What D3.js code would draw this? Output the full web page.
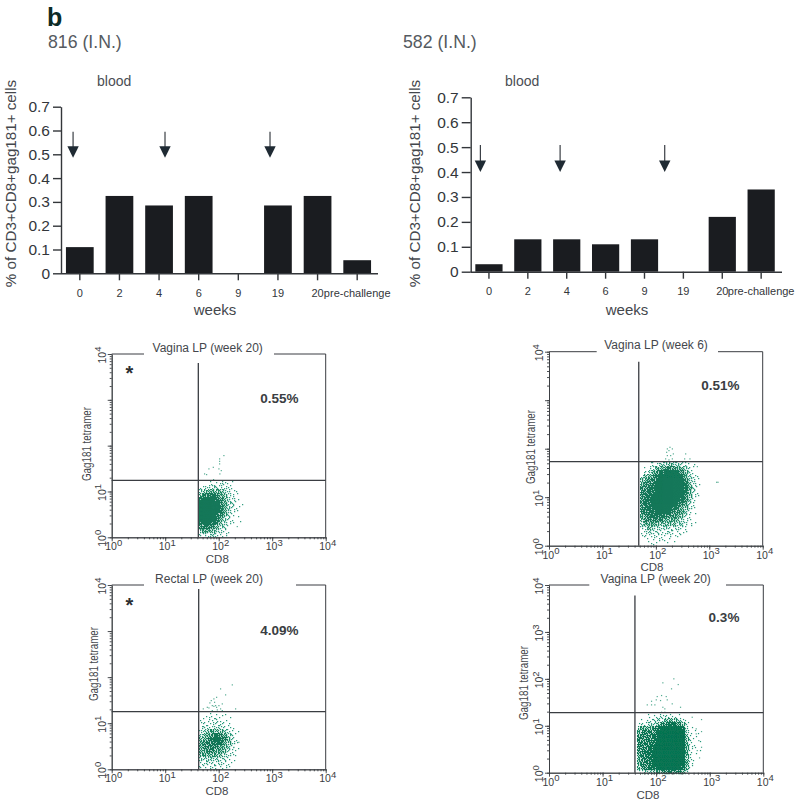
<!DOCTYPE html>
<html><head><meta charset="utf-8">
<script src="https://cdn.jsdelivr.net/npm/d3@7"></script>
<style>
html,body{margin:0;padding:0;background:#fff;overflow:hidden}
svg{display:block;font-family:"Liberation Sans",Arial,sans-serif}
</style></head><body><div id="c"></div>
<script>
/* ---------- bar chart data ---------- */
const weekLabels816 = ["0","2","4","6","9","19","20","pre-challenge"];
const values816 = [0.11,0.325,0.285,0.325,0,0.285,0.325,0.055];
const arrows816 = [-0.17,2.15,4.8];
const arrowSpan816 = [0.595,0.485];
const weekLabels582 = ["0","2","4","6","9","19","20","pre-challenge"];
const values582 = [0.03,0.13,0.13,0.11,0.13,0,0.22,0.33];
const arrows582 = [-0.22,1.83,4.52];
const arrowSpan582 = [0.509,0.40];
const yTicksBar = [0,0.1,0.2,0.3,0.4,0.5,0.6,0.7];

/* ---------- flow cytometry data: log10 decades ----------
   density rows run top to bottom, each digit is the ink level (0-9) read off
   the picture for one small patch of the cloud */
const decadesAll = [0,1,2,3,4];
const panelYLabelsSparse = [0,1,4];

const density1 = [
"00111321100",
"13343332100",
"45566543110",
"67887653210",
"89998754310",
"99999764311",
"99999864311",
"99999864210",
"99998753210",
"99998643100",
"89987542101",
"78775431000",
"56654321000",
"23343220000"];
const outliers1 = [[2.086,1.796],[2.006,1.724],[2.006,1.671],[2.006,1.615],[1.888,1.54],[1.993,1.506],[1.806,1.506],[2.037,1.468],[2.011,1.396],[1.725,1.396],[1.763,1.381],[1.893,1.272],[2.336,0.247]];

const density2 = [
"001234454432110",
"012456777654210",
"024678999875310",
"356789999986421",
"567799999997431",
"677899999998531",
"778899999998631",
"778899999998531",
"788999999997521",
"788999999987420",
"788999999876320",
"788999998765310",
"778899987764210",
"678888777653200",
"577777666542100",
"466655555443210",
"345443433322000",
"134332332211000",
"122222121110000",
"011121111000000",
"001110100000000"];
const outliers2 = [[2.204,2.008],[2.253,2.041],[2.298,2.008],[2.191,1.938],[2.234,1.973],[2.316,1.905],[2.204,1.87],[2.266,1.87],[2.172,1.802],[2.298,1.802],[2.234,1.781],[2.547,1.905],[2.627,1.802],[2.528,1.802],[2.766,1.643],[3.127,1.32],[3.152,1.32]];

const density3 = [
"01111110000",
"11222111000",
"12223311000",
"23333322100",
"34565543110",
"45678764210",
"56789875310",
"67788865310",
"67777654210",
"66776653210",
"56665543110",
"44444332100",
"23333321100",
"22222221000"];
const outliers3 = [[2.243,1.845],[2.024,1.758],[2.118,1.628],[1.95,1.575],[1.899,1.541],[1.85,1.504],[1.824,1.454],[1.912,1.467],[1.869,1.395],[1.899,1.38],[1.95,1.358],[1.993,1.395],[2.056,1.432],[1.776,1.358],[1.701,1.324],[1.806,1.345],[2.024,1.324],[2.305,1.324],[1.869,1.287],[1.963,1.302],[1.931,1.395],[2.056,1.287],[2.366,0.599],[2.273,0.49]];

const density4 = [
"0011222321100000",
"0112344565421000",
"1334457788753000",
"5666789999983100",
"6777799999994111",
"7777899999995110",
"7777899999995211",
"7778899999996210",
"7778999999996210",
"7788999999996211",
"6788999999996200",
"6778999999995210",
"6778999999996200",
"5778899999985100",
"1344567777753000"];
const outliers4 = [[2.319,2.013],[2.401,1.891],[2.114,1.928],[2.276,1.8],[2.009,1.635],[2.09,1.657],[2.177,1.635],[1.903,1.535],[1.991,1.565],[2.071,1.55],[2.196,1.565],[1.823,1.458],[1.903,1.458],[1.965,1.458],[2.114,1.407],[2.289,1.48],[2.151,1.373],[2.444,1.407],[2.09,1.301],[2.151,1.301],[2.662,1.194],[2.836,1.145],[2.737,0.947],[2.836,0.889],[2.737,0.84],[2.785,0.697],[2.836,0.554],[2.756,0.484],[2.799,0.328]];

const W = 800, H = 802;
const svg = d3.select("#c").append("svg").attr("width",W).attr("height",H);
const ink = "#3a3d42";
const soft = svg.append("defs").append("filter").attr("id","soft").attr("x","-5%").attr("y","-5%").attr("width","110%").attr("height","110%");
soft.append("feGaussianBlur").attr("stdDeviation",0.3);

/* ---------- headline text ---------- */
svg.append("text").attr("x",47).attr("y",26).attr("font-size",25).attr("font-weight",700).attr("fill","#0c2b26").text("b");
svg.append("text").attr("x",48).attr("y",48).attr("font-size",17.7).attr("fill","#555a60").text("816 (I.N.)");
svg.append("text").attr("x",403).attr("y",48).attr("font-size",17.7).attr("fill","#555a60").text("582 (I.N.)");

/* ---------- bar charts ---------- */
function barChart(o){
  const x = d3.scaleBand().domain(d3.range(o.values.length)).range(o.xr).paddingInner(0.3).paddingOuter(0.15);
  const y = d3.scaleLinear().domain([0,0.7]).range(o.yr);
  const g = svg.append("g");
  g.selectAll("rect.bar").data(o.values).join("rect").attr("class","bar")
    .attr("x",(d,i)=>x(i)).attr("width",x.bandwidth())
    .attr("y",d=>y(d)).attr("height",d=>y(0)-y(d)).attr("fill","#1a1c20");
  const ax = g.append("g").attr("transform",`translate(${o.axisX},0)`)
    .call(d3.axisLeft(y).tickValues(yTicksBar).tickSize(o.tickLen).tickSizeOuter(0).tickPadding(3)
      .tickFormat(d=>d===0?"0":d3.format(".1f")(d)));
  ax.selectAll("text").attr("font-size",15.5).attr("fill","#33363a").attr("font-family","inherit");
  const bx = g.append("g").attr("transform",`translate(0,${y(0)})`)
    .call(d3.axisBottom(d3.scaleBand().domain(o.labels).range(o.xr).paddingInner(0.3).paddingOuter(0.15))
      .tickSize(7).tickSizeOuter(0).tickPadding(9));
  bx.select(".domain").attr("d",`M${o.axisX},0.5H${o.xEnd}`);
  bx.selectAll("text").attr("font-size",11).attr("fill","#33363a").attr("font-family","inherit");
  [ax,bx].forEach(a=>{a.selectAll(".domain,.tick line").attr("stroke","#33363a").attr("stroke-width",1.4);});
  const ai = d3.scaleLinear().domain([0,o.values.length-1]).range([x(0)+x.bandwidth()/2,x(o.values.length-1)+x.bandwidth()/2]);
  o.arrows.forEach(a=>{
    const cx=ai(a), top=y(o.arrowSpan[0]), tip=y(o.arrowSpan[1]);
    g.append("line").attr("x1",cx).attr("x2",cx).attr("y1",top).attr("y2",tip-10).attr("stroke","#3a3f45").attr("stroke-width",1.2);
    g.append("path").attr("d",d3.line()([[cx-5.7,tip-11.5],[cx+5.7,tip-11.5],[cx,tip]])+"Z").attr("fill","#1f2a33");
  });
  g.append("text").attr("x",o.blood[0]).attr("y",o.blood[1]).attr("font-size",14).attr("fill","#4a4e54").text("blood");
  g.append("text").attr("x",o.weeks).attr("y",315).attr("text-anchor","middle").attr("font-size",15).attr("fill","#44474c").text("weeks");
  g.append("text").attr("transform",`translate(${o.ylx},183.5) rotate(-90)`).attr("text-anchor","middle")
    .attr("font-size",15.2).attr("fill","#44474c").text("% of CD3+CD8+gag181+ cells");
}
barChart({values:values816,labels:weekLabels816,arrows:arrows816,arrowSpan:arrowSpan816,xr:[60,377],yr:[273.3,106.7],axisX:61,xEnd:378,tickLen:8,blood:[97,86],weeks:215,ylx:16});
barChart({values:values582,labels:weekLabels582,arrows:arrows582,arrowSpan:arrowSpan582,xr:[469.5,780.6],yr:[271.7,97.3],axisX:470.7,xEnd:782,tickLen:9,blood:[505,86],weeks:627,ylx:420});

/* ---------- flow plots ---------- */
const fillOrder=[[0,0],[2,2],[2,0],[0,2],[1,1],[3,3],[3,1],[1,3],[1,0],[3,2],[3,0],[1,2],[0,1],[2,3],[2,1],[0,3]];
const levelDots=[0,1,2,3,5,7,9,11,14,16];
function flow(o){
  const x=d3.scaleLog().domain([1,1e4]).range(o.xr);
  const y=d3.scaleLog().domain([1,1e4]).range(o.yr);
  const D=v=>Math.pow(10,v);
  const g=svg.append("g");
  const dots=[];
  o.density.forEach((row,r)=>[...row].forEach((ch,c)=>{
    const level=+ch, n=levelDots[level], start=(c*5+r*7)%16;
    for(let k=0;k<n;k++){
      const b=fillOrder[(k+start)%16];
      dots.push({px:o.gx+(c+b[0]/4)*o.gs[0], py:o.gy-(r+b[1]/4)*o.gs[1], level});
    }
  }));
  const cloud=g.append("g").attr("filter","url(#soft)");
  cloud.selectAll("rect").data(dots).join("rect")
    .attr("x",d=>x(D(d.px))).attr("y",d=>y(D(d.py))).attr("width",1.2).attr("height",1.2)
    .attr("fill",d=>d.level<=4?"#28987a":d.level<=6?"#14855f":"#0a7554");
  g.selectAll("rect.out").data(o.outliers).join("rect").attr("class","out")
    .attr("x",d=>x(D(d[0]))).attr("y",d=>y(D(d[1]))).attr("width",1.2).attr("height",1.2).attr("fill","#55ab92");

  const line=(a,b,c,e,w)=>g.append("line").attr("x1",a).attr("x2",c).attr("y1",b).attr("y2",e).attr("stroke",ink).attr("stroke-width",w||1);
  line(x(D(o.vline)),y(D(o.vtop)),x(D(o.vline)),y(1),1.3);
  line(o.xr[0],y(D(o.hline)),o.xr[1],y(D(o.hline)),1.2);
  line(o.xr[0],o.yr[1],o.gap[0],o.yr[1],1);
  line(o.gap[1],o.yr[1],o.xr[1],o.yr[1],1);
  line(o.xr[1],o.yr[1],o.xr[1],o.yr[0],1);

  const minor=d3.range(0,4).flatMap(d=>d3.range(1,10).map(m=>m*Math.pow(10,d))).concat([1e4]);
  const bx=g.append("g").attr("transform",`translate(0,${o.yr[0]})`).call(d3.axisBottom(x).tickValues(minor).tickSize(2).tickSizeOuter(0).tickFormat(""));
  const ly=g.append("g").attr("transform",`translate(${o.xr[0]},0)`).call(d3.axisLeft(y).tickValues(minor).tickSize(2).tickSizeOuter(0).tickFormat(""));
  const bM=g.append("g").attr("transform",`translate(0,${o.yr[0]})`).call(d3.axisBottom(x).tickValues(decadesAll.map(D)).tickSize(4).tickSizeOuter(0).tickFormat(""));
  const lM=g.append("g").attr("transform",`translate(${o.xr[0]},0)`).call(d3.axisLeft(y).tickValues(decadesAll.map(D)).tickSize(4).tickSizeOuter(0).tickFormat(""));
  [bx,ly,bM,lM].forEach(a=>a.selectAll(".domain,.tick line").attr("stroke",ink).attr("stroke-width",0.9));

  const pow=(t,d)=>{t.append("tspan").text("10");t.append("tspan").attr("font-size",9.5).attr("dy",-4.5).text(d);};
  decadesAll.forEach(d=>{
    const t=g.append("text").attr("x",x(D(d))+2).attr("y",o.yr[0]+13).attr("text-anchor","middle").attr("font-size",10.5).attr("fill",ink);
    pow(t,d);
  });
  o.yLabels.forEach(d=>{
    const t=g.append("text").attr("transform",`translate(${o.xr[0]-6},${y(D(d))+1}) rotate(-90)`).attr("text-anchor","middle").attr("font-size",10.5).attr("fill",ink);
    pow(t,d);
  });
  g.append("text").attr("x",o.title[0]).attr("y",o.title[1]).attr("text-anchor","middle").attr("font-size",12).attr("fill","#44474c").text(o.titleText);
  g.append("text").attr("x",o.pct[0]).attr("y",o.pct[1]+5).attr("text-anchor","middle").attr("font-size",13.5).attr("font-weight",700).attr("fill","#3a3d42").text(o.pctText);
  g.append("text").attr("x",o.cd8[0]).attr("y",o.cd8[1]+5).attr("text-anchor","middle").attr("font-size",11.5).attr("fill","#44474c").text("CD8");
  g.append("text").attr("transform",`translate(${o.gag[0]},${o.gag[1]}) rotate(-90)`).attr("text-anchor","middle").attr("font-size",12)
    .attr("textLength",74).attr("lengthAdjust","spacingAndGlyphs").attr("fill","#44474c").text("Gag181 tetramer");
  if(o.star) g.append("text").attr("x",o.star[0]).attr("y",o.star[1]+10).attr("text-anchor","middle").attr("font-size",20).attr("font-weight",700).attr("fill","#2c2f33").text("*");
}
flow({xr:[111.7,325.7],yr:[537.3,354],density:density1,outliers:outliers1,gx:1.632,gy:1.228,gs:[0.0748,0.0873],vline:1.619,vtop:3.803,hline:1.244,gap:[144,274],yLabels:panelYLabelsSparse,title:[207.7,352],titleText:"Vagina LP (week 20)",pct:[279.3,397.7],pctText:"0.55%",cd8:[217.3,557.7],gag:[91,444],star:[129.3,370]});
flow({xr:[549,762.7],yr:[545.7,351.7],density:density2,outliers:outliers2,gx:1.704,gy:1.726,gs:[0.0749,0.0825],vline:1.68,vtop:3.794,hline:1.732,gap:[596.7,718],yLabels:panelYLabelsSparse,title:[656,349],titleText:"Vagina LP (week 6)",pct:[720.3,385],pctText:"0.51%",cd8:[652,566],gag:[535,447]});
flow({xr:[111.7,325.7],yr:[769.3,585],density:density3,outliers:outliers3,gx:1.632,gy:1.222,gs:[0.0748,0.0868],vline:1.626,vtop:3.913,hline:1.25,gap:[144,296],yLabels:panelYLabelsSparse,title:[209,582.7],titleText:"Rectal LP (week 20)",pct:[279.3,629.7],pctText:"4.09%",cd8:[217,790],gag:[98,664],star:[129.3,601.7]});
flow({xr:[549,763.3],yr:[772.7,585],density:density4,outliers:outliers4,gx:1.642,gy:1.252,gs:[0.0746,0.0853],vline:1.604,vtop:3.774,hline:1.279,gap:[589.3,726],yLabels:decadesAll,title:[655.7,582.7],titleText:"Vagina LP (week 20)",pct:[724,617],pctText:"0.3%",cd8:[648,793.7],gag:[528,683]});
</script></body></html>
